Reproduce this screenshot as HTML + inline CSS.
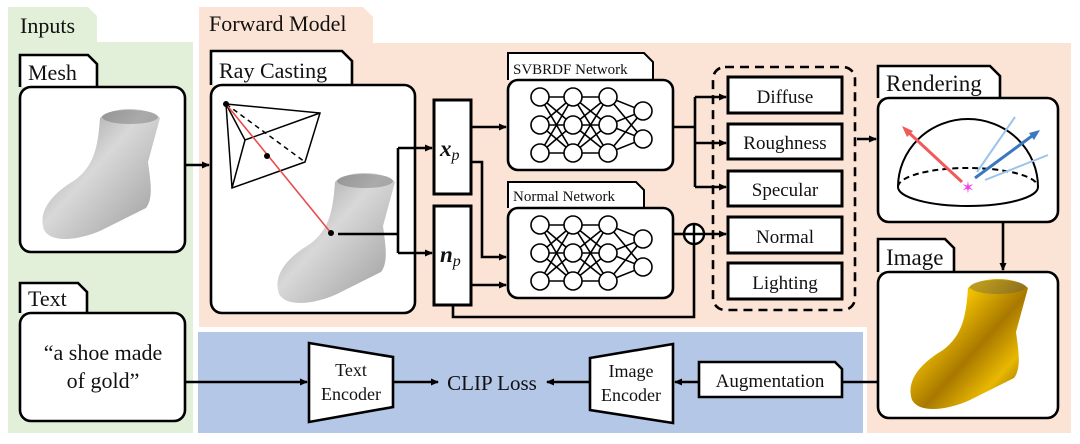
<!DOCTYPE html>
<html><head><meta charset="utf-8"><style>
html,body{margin:0;padding:0;background:#fff;width:1080px;height:444px;overflow:hidden}
svg{display:block;font-family:"Liberation Serif","DejaVu Serif","Times New Roman",serif}
svg text{font-family:"Liberation Serif","DejaVu Serif","Times New Roman",serif;fill:#111}
</style></head><body>
<svg width="1080" height="444" viewBox="0 0 1080 444" xmlns="http://www.w3.org/2000/svg">
<defs>
<marker id="ah" markerWidth="8" markerHeight="8" refX="7" refY="4" orient="auto" markerUnits="userSpaceOnUse">
<path d="M0,0.5 L8,4 L0,7.5 Z" fill="#000"/></marker>
<linearGradient id="gray" x1="0" y1="0" x2="1" y2="1">
<stop offset="0" stop-color="#8a8a8a"/><stop offset="0.45" stop-color="#d8d8d8"/><stop offset="1" stop-color="#9a9a9a"/></linearGradient>
<linearGradient id="gold" x1="0" y1="0" x2="1" y2="1">
<stop offset="0" stop-color="#7a5a00"/><stop offset="0.3" stop-color="#f2c200"/><stop offset="0.55" stop-color="#a87800"/><stop offset="0.75" stop-color="#e8b800"/><stop offset="1" stop-color="#6a4a00"/></linearGradient>
<g id="boot">
<path d="M100,118 C98,145 95,165 75,180 C50,195 38,212 44,230 C52,244 80,240 102,230 L146,208 C154,198 150,178 148,162 L160,118 C148,106 112,106 100,118 Z"/>
<ellipse cx="130" cy="117" rx="28" ry="7" opacity="0.35" fill="#555"/>
</g>
<g id="net" stroke="#000" stroke-width="1.6" fill="#fff">
<g fill="none">
<line x1="540" y1="97" x2="573" y2="97"/><line x1="540" y1="97" x2="573" y2="125"/><line x1="540" y1="97" x2="573" y2="153"/>
<line x1="540" y1="125" x2="573" y2="97"/><line x1="540" y1="125" x2="573" y2="125"/><line x1="540" y1="125" x2="573" y2="153"/>
<line x1="540" y1="153" x2="573" y2="97"/><line x1="540" y1="153" x2="573" y2="125"/><line x1="540" y1="153" x2="573" y2="153"/>
<line x1="573" y1="97" x2="608" y2="97"/><line x1="573" y1="97" x2="608" y2="125"/><line x1="573" y1="97" x2="608" y2="153"/>
<line x1="573" y1="125" x2="608" y2="97"/><line x1="573" y1="125" x2="608" y2="125"/><line x1="573" y1="125" x2="608" y2="153"/>
<line x1="573" y1="153" x2="608" y2="97"/><line x1="573" y1="153" x2="608" y2="125"/><line x1="573" y1="153" x2="608" y2="153"/>
<line x1="608" y1="97" x2="643" y2="111"/><line x1="608" y1="97" x2="643" y2="139"/>
<line x1="608" y1="125" x2="643" y2="111"/><line x1="608" y1="125" x2="643" y2="139"/>
<line x1="608" y1="153" x2="643" y2="111"/><line x1="608" y1="153" x2="643" y2="139"/>
</g>
<circle cx="540" cy="97" r="9"/><circle cx="540" cy="125" r="9"/><circle cx="540" cy="153" r="9"/>
<circle cx="573" cy="97" r="9"/><circle cx="573" cy="125" r="9"/><circle cx="573" cy="153" r="9"/>
<circle cx="608" cy="97" r="9"/><circle cx="608" cy="125" r="9"/><circle cx="608" cy="153" r="9"/>
<circle cx="643" cy="111" r="9"/><circle cx="643" cy="139" r="9"/>
</g>
</defs>

<path d="M8,7 H88 L97,16 V42 H193 V433 H8 Z" fill="#e2efd9"/>
<path d="M199,7 H363 L373,17 V43 H1071 V433 H867 V327 H199 Z" fill="#fbe4d5"/>
<rect x="198" y="332" width="665" height="101" fill="#b4c7e7"/>
<text x="20" y="33" font-size="22">Inputs</text>
<text x="209" y="31" font-size="22">Forward Model</text>

<g fill="#fff" stroke="#000" stroke-width="2.6">
<path d="M20,87 V55 H88 L97,64 V87"/>
<rect x="20" y="87" width="165" height="165" rx="11"/>
<path d="M20,313 V283 H78 L87,292 V313"/>
<rect x="20" y="313" width="165" height="108" rx="11"/>
<path d="M211,85 V51 H342 L352,61 V85"/>
<rect x="211" y="85" width="204" height="228" rx="11"/>
<rect x="434" y="100" width="37" height="94" stroke-width="3"/>
<rect x="434" y="206" width="37" height="99" stroke-width="3"/>
<path d="M508,80 V53 H644 L653,62 V80" stroke-width="2"/>
<rect x="508" y="80" width="165" height="90" rx="10"/>
<path d="M508,208 V182 H636 L644,190 V208" stroke-width="2"/>
<rect x="508" y="208" width="165" height="90" rx="10"/>
<rect x="728" y="77" width="114" height="36" stroke-width="3"/>
<rect x="728" y="124" width="114" height="35" stroke-width="3"/>
<rect x="728" y="171" width="114" height="35" stroke-width="3"/>
<rect x="728" y="217" width="114" height="36" stroke-width="3"/>
<rect x="728" y="263" width="114" height="36" stroke-width="3"/>
<path d="M878,98 V66 H990 L1000,76 V98"/>
<rect x="878" y="98" width="180" height="124" rx="11"/>
<path d="M878,272 V239 H945 L954,248 V272"/>
<rect x="878" y="272" width="180" height="146" rx="11"/>
<path d="M309,343 L393,357 V407 L309,422 Z"/>
<path d="M590,358 L673,344 V423 L590,410 Z"/>
<path d="M699,362 H835 L842,369 V397 H699 Z"/>
</g>
<rect x="713" y="67" width="142" height="243" rx="12" fill="none" stroke="#000" stroke-width="2.6" stroke-dasharray="9,6"/>

<text x="28" y="80" font-size="22">Mesh</text>
<text x="28" y="306" font-size="22">Text</text>
<text x="219" y="78" font-size="22">Ray Casting</text>
<text x="103" y="360" font-size="22" text-anchor="middle">“a shoe made</text>
<text x="103" y="388" font-size="22" text-anchor="middle">of gold”</text>
<text x="513" y="74" font-size="15">SVBRDF Network</text>
<text x="513" y="201" font-size="15">Normal Network</text>
<text x="785" y="103" font-size="19" text-anchor="middle">Diffuse</text>
<text x="785" y="149" font-size="19" text-anchor="middle">Roughness</text>
<text x="785" y="196" font-size="19" text-anchor="middle">Specular</text>
<text x="785" y="243" font-size="19" text-anchor="middle">Normal</text>
<text x="785" y="289" font-size="19" text-anchor="middle">Lighting</text>
<text x="886" y="91" font-size="23">Rendering</text>
<text x="886" y="265" font-size="23">Image</text>
<text x="351" y="376" font-size="18" text-anchor="middle">Text</text>
<text x="351" y="400" font-size="18" text-anchor="middle">Encoder</text>
<text x="492" y="390" font-size="21" text-anchor="middle">CLIP Loss</text>
<text x="631" y="377" font-size="18" text-anchor="middle">Image</text>
<text x="631" y="401" font-size="18" text-anchor="middle">Encoder</text>
<text x="770" y="387" font-size="19" text-anchor="middle">Augmentation</text>
<text x="440" y="156" font-size="23" font-weight="bold" font-style="italic">x<tspan font-size="16" font-weight="normal" dy="4">p</tspan></text>
<text x="440" y="262" font-size="23" font-weight="bold" font-style="italic">n<tspan font-size="16" font-weight="normal" dy="4">p</tspan></text>

<use href="#net"/>
<use href="#net" transform="translate(0,128)"/>

<use href="#boot" fill="url(#gray)"/>
<use href="#boot" fill="url(#gray)" transform="translate(235,64)"/>
<use href="#boot" fill="url(#gold)" transform="translate(868,170)"/>

<g stroke="#000" stroke-width="1.5" fill="none">
<path d="M226,104 L320,113 L305,162 L232,188 Z"/>
<path d="M226,104 L245,140 L320,113 M245,140 L232,188"/>
<path d="M226,104 L305,162" stroke-dasharray="5,4"/>
</g>
<line x1="226" y1="104" x2="331" y2="233" stroke="#e84c4c" stroke-width="1.6"/>
<circle cx="226" cy="104" r="3"/><circle cx="267" cy="156" r="3"/><circle cx="331" cy="233" r="3"/>

<g stroke="#000" stroke-width="2.6" fill="none">
<line x1="185" y1="165" x2="209" y2="165" marker-end="url(#ah)"/>
<path d="M338,234 H398"/>
<path d="M398,148 V253"/>
<line x1="398" y1="148" x2="432" y2="148" marker-end="url(#ah)"/>
<line x1="398" y1="253" x2="432" y2="253" marker-end="url(#ah)"/>
<line x1="471" y1="127" x2="506" y2="127" marker-end="url(#ah)"/>
<path d="M471,162 H482 V257 H506" marker-end="url(#ah)"/>
<line x1="471" y1="285" x2="506" y2="285" marker-end="url(#ah)"/>
<path d="M453,305 V317 H694 V244"/>
<path d="M673,127 H695 M695,97 V187"/>
<line x1="695" y1="97" x2="726" y2="97" marker-end="url(#ah)"/>
<line x1="695" y1="143" x2="726" y2="143" marker-end="url(#ah)"/>
<line x1="695" y1="187" x2="726" y2="187" marker-end="url(#ah)"/>
<line x1="673" y1="234" x2="684" y2="234"/>
<line x1="704" y1="234" x2="726" y2="234" marker-end="url(#ah)"/>
<line x1="857" y1="139" x2="876" y2="139" marker-end="url(#ah)"/>
<line x1="1003" y1="222" x2="1003" y2="270" marker-end="url(#ah)"/>
<line x1="185" y1="382" x2="307" y2="382" marker-end="url(#ah)"/>
<line x1="393" y1="382" x2="438" y2="382" marker-end="url(#ah)"/>
<line x1="590" y1="382" x2="547" y2="382" marker-end="url(#ah)"/>
<line x1="699" y1="382" x2="675" y2="382" marker-end="url(#ah)"/>
<line x1="878" y1="382" x2="842" y2="382"/>
</g>
<g stroke="#000" stroke-width="2.4" fill="#fff">
<circle cx="694" cy="234" r="10"/>
<path d="M684,234 H704 M694,224 V244" fill="none"/>
</g>

<g stroke="#000" stroke-width="2" fill="none">
<path d="M898,187 A70,68 0 0 1 1038,187"/>
<path d="M898,187 A70,19 0 0 0 1038,187"/>
<path d="M898,187 A70,19 0 0 1 1038,187" stroke-dasharray="6,4"/>
</g>
<line x1="962" y1="182" x2="906" y2="130" stroke="#f05a5a" stroke-width="3"/>
<path d="M902,126 L913,131 L907,137 Z" fill="#f05a5a"/>
<line x1="975" y1="178" x2="1036" y2="133" stroke="#3a78c0" stroke-width="3"/>
<path d="M1040,130 L1034,140 L1029,133 Z" fill="#3a78c0"/>
<line x1="977" y1="172" x2="1015" y2="117" stroke="#9cc3ea" stroke-width="2"/>
<line x1="985" y1="180" x2="1048" y2="155" stroke="#9cc3ea" stroke-width="2"/>
<text x="968" y="193" font-size="16" text-anchor="middle" style="fill:#ee44ee">✶</text>
</svg>
</body></html>
